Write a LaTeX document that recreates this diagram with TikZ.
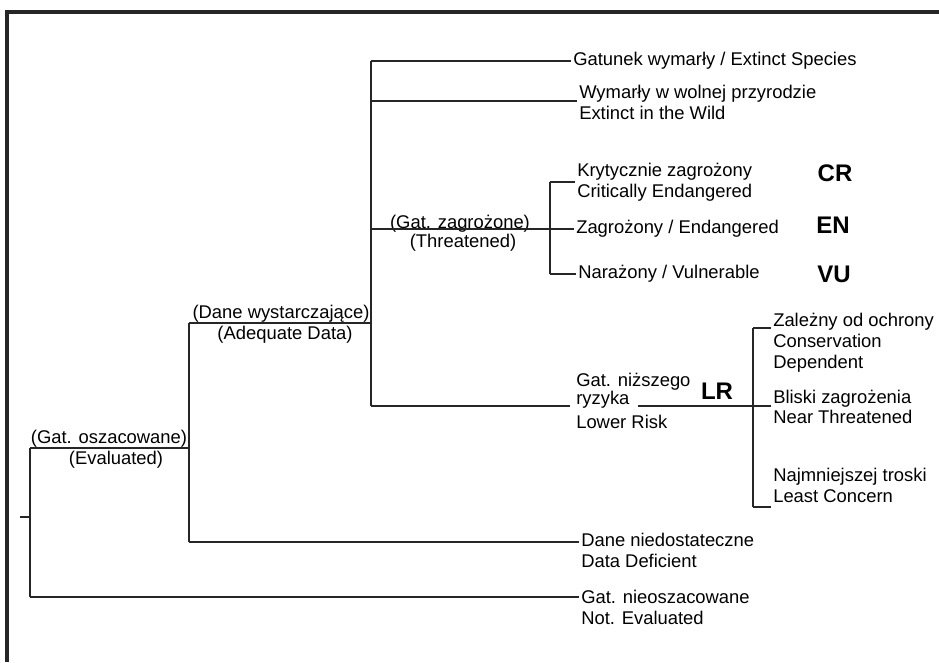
\documentclass[tikz,border=0pt]{standalone}
\usepackage{fontspec}
\setmainfont{Liberation Sans}
\usetikzlibrary{positioning}

\begin{document}
\begin{tikzpicture}[
    x=0.75pt,
    y=-0.75pt,
    font=\fontsize{13.8pt}{15.4pt}\selectfont,
    branch/.style={draw=black!85, line width=1pt},
    frame/.style={draw=black!85, line width=2.4pt},
    leaf/.style={inner xsep=1.5pt, inner ysep=0pt, align=left, anchor=base west},
    lbl/.style={inner sep=0pt, anchor=base},
    tag/.style={inner sep=0pt, font=\fontsize{18pt}{20pt}\selectfont\bfseries}
]
\useasboundingbox (0,0) rectangle (939,662);

% ============================================================
% RAMKA
% ============================================================
\draw[frame] (939,12) -- (7,12) -- (7,662);

% ============================================================
% PUNKTY ROZGALEZIEN
% ============================================================
\coordinate (root) at (20,517);
\coordinate (evTop) at (30,448);
\coordinate (evBot) at (30,597);
\coordinate (adTop) at (189,323);
\coordinate (adBot) at (189,542);
\coordinate (mTop) at (371,61);
\coordinate (jEW) at (371,101);
\coordinate (jTh) at (371,229);
\coordinate (jAd) at (371,323);
\coordinate (mBot) at (371,406);
\coordinate (thTop) at (550,182);
\coordinate (thBot) at (550,274);
\coordinate (lrIn) at (570,406);
\coordinate (lrOut) at (638,406);
\coordinate (lrTop) at (753,328);
\coordinate (lrBot) at (753,507);

% ============================================================
% LISCIE (base = linia bazowa ostatniego wiersza)
% ============================================================
\node[leaf, anchor=west] (exs) at (571,61) {Gatunek wymarły / Extinct Species};
\node[leaf] (exw) at (577,119) {Wymarły w wolnej przyrodzie\\Extinct in the Wild};
\node[leaf] (crit) at (575,197) {Krytycznie zagrożony\\Critically Endangered};
\node[leaf, anchor=west] (endg) at (574,229) {Zagrożony / Endangered};
\node[leaf, anchor=west] (vuln) at (576,274) {Narażony / Vulnerable};
\node[leaf] (lrA) at (574,386) {Gat. niższego};
\node[leaf] (lrB) at (574,404) {ryzyka};
\node[leaf] (lrC) at (574,428) {Lower Risk};
\node[leaf] (cdep) at (771,368) {Zależny od ochrony\\Conservation\\Dependent};
\node[leaf, anchor=west] (nthr) at (771,407) {Bliski zagrożenia\\Near Threatened};
\node[leaf] (lcon) at (771,502) {Najmniejszej troski\\Least Concern};
\node[leaf] (ddef) at (579,567) {Dane niedostateczne\\Data Deficient};
\node[leaf] (nev) at (579,624) {Gat. nieoszacowane\\Not. Evaluated};

% ============================================================
% ETYKIETY GALEZI
% ============================================================
\node[lbl] (thrA) at (460,228) {(Gat. zagrożone)};
\node[lbl] (thrB) at (463,247) {(Threatened)};
\node[lbl] (adA) at (281,318) {(Dane wystarczające)};
\node[lbl] (adB) at (285,339) {(Adequate Data)};
\node[lbl] (evA) at (109,443) {(Gat. oszacowane)};
\node[lbl] (evB) at (116,464) {(Evaluated)};

\node[tag] (tCR) at (835,173) {CR};
\node[tag] (tEN) at (833,225) {EN};
\node[tag] (tVU) at (834,274) {VU};
\node[tag] (tLR) at (717,391) {LR};

% ============================================================
% POLACZENIA
% ============================================================
\draw[branch] (root) -- (root -| evTop);
\draw[branch] (evTop) -- (evBot);
\draw[branch] (evTop) -- (evTop -| adTop);
\draw[branch] (evBot) -- (nev.west |- evBot);

\draw[branch] (adTop) -- (adBot);
\draw[branch] (adTop) -- (jAd);
\draw[branch] (adBot) -- (ddef.west |- adBot);

\draw[branch] (mTop) -- (mBot);
\draw[branch] (mTop) -- (exs.west |- mTop);
\draw[branch] (jEW) -- (exw.west |- jEW);
\draw[branch] (jTh) -- (endg.west |- jTh);

\draw[branch] (thTop) -- (thBot);
\draw[branch] (thTop) -- (crit.west |- thTop);
\draw[branch] (thBot) -- (vuln.west |- thBot);

\draw[branch] (mBot) -- (lrIn);
\draw[branch] (lrOut) -- (nthr.west |- lrOut);
\draw[branch] (lrTop) -- (lrBot);
\draw[branch] (lrTop) -- (cdep.west |- lrTop);
\draw[branch] (lrBot) -- (lcon.west |- lrBot);

\end{tikzpicture}
\end{document}
